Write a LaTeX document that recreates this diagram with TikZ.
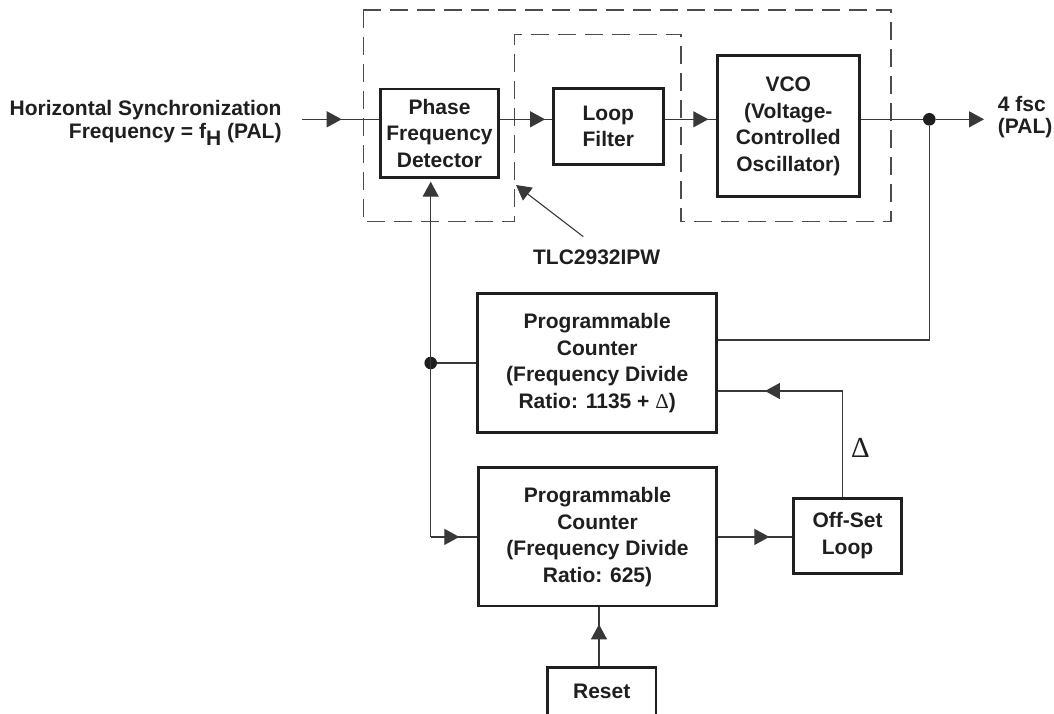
\documentclass[tikz,border=0pt]{standalone}
\usepackage{fontspec}
\setmainfont{Liberation Sans}
\newfontfamily\serifD{Liberation Serif}
\usetikzlibrary{arrows.meta,decorations.markings,calc}
\begin{document}
\begin{tikzpicture}[x=1pt,y=-1pt,
  blk/.style={draw=black!88, line width=2.7pt, inner sep=0pt, align=center,
    text=black!88, font=\bfseries\fontsize{21}{26.6}\selectfont},
  lbl/.style={inner sep=0pt, text=black!88, font=\bfseries\fontsize{21}{22.6}\selectfont},
  conn/.style={draw=black!78, line width=1.3pt},
  dashbox/.style={draw=black!70, line width=1.2pt, dash pattern=on 18pt off 9pt},
  tipend/.style={-{Triangle[length=15pt,width=16pt]}},
  midarrow/.style={postaction={decorate}, decoration={markings,
    mark=at position #1 with {\arrow{Triangle[length=15pt,width=16pt]}}}},
  dot/.style={circle, fill=black!88, inner sep=0pt, minimum size=12.6pt}
]
\path[use as bounding box, fill=white] (0,0) rectangle (1054,713);

% dashed outline of TLC2932IPW
\draw[dashbox] (363.3,10) -- (891,10) -- (891,221.7) -- (681,221.7) -- (681,34.3)
  -- (514.3,34.3) -- (514.3,221.7) -- (363.3,221.7) -- cycle;

% blocks
\node[blk, minimum width=117.6pt, minimum height=88.3pt] (pfd) at (439.5,133.2)
  {Phase\\Frequency\\Detector};
\node[blk, minimum width=110pt, minimum height=76pt] (lf) at (608.3,126.3)
  {Loop\\Filter};
\node[blk, minimum width=142pt, minimum height=141pt] (vco) at (788.3,126.2)
  {VCO\\(Voltage-\\Controlled\\Oscillator)};
\node[blk, minimum width=239pt, minimum height=139.4pt] (c1) at (597.2,363)
  {Programmable\\Counter\\(Frequency Divide\\Ratio: 1135 + {\serifD\mdseries Δ})};
\node[blk, minimum width=238.4pt, minimum height=138.3pt] (c2) at (597.5,536.9)
  {Programmable\\Counter\\(Frequency Divide\\Ratio: 625)};
\node[blk, minimum width=108.4pt, minimum height=75pt] (off) at (847.5,535.8)
  {Off-Set\\Loop};
\node[blk, minimum width=108.7pt, minimum height=48.5pt] (reset) at (601.7,691.55)
  {Reset};

% labels
\node[lbl, align=right, anchor=base east] (hin) at (281.7,138.3)
  {Horizontal Synchronization\\Frequency = f\raisebox{-7.5pt}{H} (PAL)};
\node[lbl, align=left, anchor=west] (fout) at (997.7,117.2)
  {\fontsize{21}{24.3}\selectfont 4 fsc\\(PAL)};
\node[lbl] (tlc) at (596.7,257.3) {TLC2932IPW};
\node[inner sep=0pt, text=black!88, font=\serifD\fontsize{29}{29}\selectfont] (delta) at (860.5,448.3) {Δ};

% coordinates
\coordinate (in) at (301.7,119.3);
\coordinate (out) at (984,119.3);
\coordinate (tlctip) at (516,185);
\node[dot] (d1) at (929.3,119.3) {};
\coordinate (fb) at ([xshift=-8.8pt]pfd.south |- c2.west);
\node[dot] (d2) at (fb |- c1.west) {};

% main forward path
\draw[conn, midarrow=40pt] (in) -- (in -| pfd.west);
\draw[conn, midarrow=45.4pt] (pfd.east |- in) -- (lf.west |- in);
\draw[conn, midarrow=43.6pt] (lf.east |- in) -- (vco.west |- in);
\draw[conn] (vco.east |- in) -- (d1);
\draw[conn, tipend] (d1) -- (out);

% feedback
\draw[conn] (d1) |- ([yshift=23pt]c1.east);
\draw[conn, tipend, shorten >=3pt] (fb) -- ([xshift=-8.8pt]pfd.south);
\draw[conn] (d2) -- (c1.west);
\draw[conn, midarrow=28.6pt] (fb) -- (c2.west);
\draw[conn, midarrow=51.3pt] (c2.east) -- (off.west |- c2.east);
\draw[conn, midarrow=183.7pt] ([xshift=-4.8pt]off.north) |- ([yshift=-28pt]c1.east);
\draw[conn, midarrow=41.6pt] ([xshift=-2.7pt]reset.north) -- ([xshift=-2.7pt]reset.north |- c2.south);

% TLC pointer
\draw[conn, line width=1.1pt, tipend] ([shift={(-13.4pt,13pt)}]tlc.north) -- (tlctip);
\end{tikzpicture}
\end{document}
